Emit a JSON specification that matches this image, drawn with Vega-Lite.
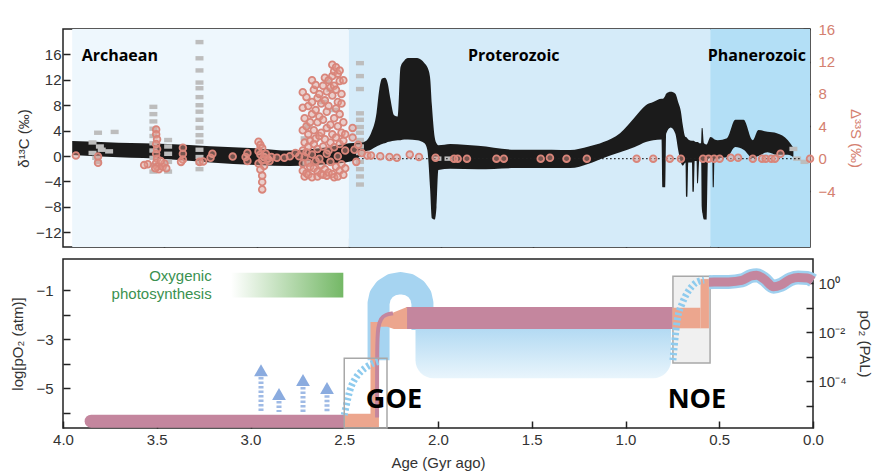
{
"$schema":"https://vega.github.io/schema/vega-lite/v6.json",
"background":"white",
"padding":{"left":10,"top":21,"right":5,"bottom":5},
"spacing":12,
"bounds":"flush",
"resolve":{"scale":{"x":"independent"}},
"config":{
 "view":{"stroke":"#222","strokeWidth":1.5},
 "axis":{"labelFont":"Liberation Sans","titleFont":"Liberation Sans","labelFontSize":15,"titleFontSize":15,"titleFontWeight":"normal","labelColor":"#333","titleColor":"#333","tickColor":"#222","tickWidth":1.5,"tickSize":-7,"domain":false,"grid":false}
},
"vconcat":[
{
 "width":747,"height":218,
 "resolve":{"scale":{"y":"independent"}},
 "layer":[
  {"layer":[
   {"data":{"values":[{"a1":4.0,"a2":2.5,"era":"A"},{"a1":2.5,"a2":0.541,"era":"P"},{"a1":0.541,"a2":0,"era":"Ph"}]},
    "mark":{"type":"rect"},
    "encoding":{
     "x":{"field":"a1","type":"quantitative","scale":{"domain":[0,4.05],"reverse":true,"nice":false,"zero":false},"axis":{"title":null,"labels":false,"values":[3.5,3,2.5,2,1.5,1,0.5],"tickSize":-9,"minExtent":0}},
     "x2":{"field":"a2"},
     "color":{"field":"era","type":"nominal","scale":{"domain":["A","P","Ph"],"range":["#eef7fd","#d5ebf9","#b3dff6"]},"legend":null}}},
   {"data":{"values":[
    {"age":4.0,"lo":0.16,"hi":2.36},{"age":3.75,"lo":-0.2,"hi":2.1},{"age":3.48,"lo":-0.5,"hi":1.9},{"age":3.25,"lo":-1.0,"hi":1.55},{"age":3.0,"lo":-1.4,"hi":1.2},{"age":2.82,"lo":-1.57,"hi":0.85},{"age":2.7,"lo":-1.45,"hi":1.1},{"age":2.6,"lo":-1.26,"hi":1.46},{"age":2.5,"lo":-0.9,"hi":2.0},{"age":2.45,"lo":-0.3,"hi":2.1},{"age":2.42,"lo":0.6,"hi":2.2},{"age":2.38,"lo":1.0,"hi":3.6},{"age":2.35,"lo":1.5,"hi":6.8},{"age":2.335,"lo":1.7,"hi":10.5},{"age":2.32,"lo":1.9,"hi":12.2},{"age":2.305,"lo":2.0,"hi":12.3},{"age":2.29,"lo":2.2,"hi":11.5},{"age":2.275,"lo":2.3,"hi":9.0},{"age":2.255,"lo":2.4,"hi":6.4},{"age":2.235,"lo":2.5,"hi":6.2},{"age":2.22,"lo":2.5,"hi":14.0},{"age":2.2,"lo":2.6,"hi":15.0},{"age":2.18,"lo":2.6,"hi":15.4},{"age":2.13,"lo":2.5,"hi":15.4},{"age":2.09,"lo":2.0,"hi":14.6},{"age":2.075,"lo":1.0,"hi":14.0},{"age":2.06,"lo":-5.0,"hi":12.4},{"age":2.05,"lo":-9.8,"hi":8.0},{"age":2.035,"lo":-10.0,"hi":3.0},{"age":2.025,"lo":-8.0,"hi":2.0},{"age":2.015,"lo":-2.2,"hi":1.7},{"age":1.95,"lo":-2.0,"hi":1.9},{"age":1.8,"lo":-2.1,"hi":1.6},{"age":1.6,"lo":-1.9,"hi":1.0},{"age":1.4,"lo":-1.9,"hi":1.0},{"age":1.3,"lo":-1.9,"hi":0.94},{"age":1.2,"lo":-1.2,"hi":1.5},{"age":1.12,"lo":-0.3,"hi":2.2},{"age":1.03,"lo":0.6,"hi":3.6},{"age":0.95,"lo":1.4,"hi":6.1},{"age":0.89,"lo":2.2,"hi":8.0},{"age":0.85,"lo":2.5,"hi":8.5},{"age":0.805,"lo":2.6,"hi":9.0},{"age":0.8,"lo":-4.9,"hi":9.0},{"age":0.785,"lo":-4.9,"hi":9.5},{"age":0.78,"lo":3.5,"hi":9.8},{"age":0.755,"lo":4.5,"hi":10.1},{"age":0.73,"lo":3.5,"hi":9.8},{"age":0.715,"lo":1.0,"hi":8.5},{"age":0.7,"lo":-1.0,"hi":7.0},{"age":0.69,"lo":-1.5,"hi":4.9},{"age":0.675,"lo":-1.0,"hi":3.0},{"age":0.672,"lo":-6.4,"hi":3.0},{"age":0.665,"lo":-6.4,"hi":2.8},{"age":0.66,"lo":-1.0,"hi":2.6},{"age":0.64,"lo":-1.0,"hi":2.4},{"age":0.636,"lo":-5.6,"hi":2.4},{"age":0.63,"lo":-5.6,"hi":2.4},{"age":0.625,"lo":-0.8,"hi":2.3},{"age":0.615,"lo":-0.8,"hi":2.2},{"age":0.612,"lo":-4.3,"hi":2.2},{"age":0.607,"lo":-4.3,"hi":2.2},{"age":0.6,"lo":-0.6,"hi":2.0},{"age":0.59,"lo":-0.6,"hi":2.0},{"age":0.587,"lo":-8.0,"hi":4.4},{"age":0.583,"lo":-9.0,"hi":4.4},{"age":0.575,"lo":-10.0,"hi":2.0},{"age":0.56,"lo":-10.0,"hi":1.8},{"age":0.553,"lo":-0.5,"hi":2.2},{"age":0.54,"lo":-0.3,"hi":3.0},{"age":0.53,"lo":-0.3,"hi":2.9},{"age":0.527,"lo":-4.9,"hi":2.8},{"age":0.522,"lo":-4.9,"hi":2.7},{"age":0.518,"lo":-0.3,"hi":2.6},{"age":0.5,"lo":-0.3,"hi":2.5},{"age":0.45,"lo":-0.2,"hi":2.8},{"age":0.405,"lo":1.4,"hi":5.7},{"age":0.36,"lo":1.0,"hi":5.7},{"age":0.31,"lo":-0.3,"hi":2.5},{"age":0.28,"lo":0.0,"hi":4.1},{"age":0.23,"lo":0.6,"hi":3.8},{"age":0.18,"lo":0.2,"hi":3.6},{"age":0.12,"lo":0.2,"hi":2.5},{"age":0.09,"lo":-0.2,"hi":1.3}]},
    "mark":{"type":"area","color":"#1b1b1b","interpolate":"monotone"},
    "encoding":{
     "x":{"field":"age","type":"quantitative","scale":{"domain":[0,4.05],"reverse":true,"nice":false,"zero":false},"axis":{"title":null,"labels":false,"values":[3.5,3,2.5,2,1.5,1,0.5],"tickSize":-9,"minExtent":0}},
     "y":{"field":"hi","type":"quantitative","scale":{"domain":[-14.31,19.98],"nice":false,"zero":false},"axis":{"title":"δ¹³C (‰)","values":[-12,-8,-4,0,4,8,12,16],"labelPadding":9,"titlePadding":4}},
     "y2":{"field":"lo"}}},
   {"data":{"values":[{"age":3.742,"y":14.94,"t":"Archaean"},{"age":1.606,"y":14.94,"t":"Proterozoic"},{"age":0.288,"y":14.94,"t":"Phanerozoic"}]},
    "mark":{"type":"text","font":"Open Sans","fontWeight":"bold","fontSize":16,"color":"#000","baseline":"alphabetic","align":"center"},
    "encoding":{
     "x":{"field":"age","type":"quantitative","scale":{"domain":[0,4.05],"reverse":true,"nice":false,"zero":false},"axis":{"title":null,"labels":false,"values":[3.5,3,2.5,2,1.5,1,0.5],"tickSize":-9,"minExtent":0}},
     "y":{"field":"y","type":"quantitative","scale":{"domain":[-14.31,19.98],"nice":false,"zero":false},"axis":{"title":"δ¹³C (‰)","values":[-12,-8,-4,0,4,8,12,16],"labelPadding":9,"titlePadding":4}},
     "text":{"field":"t"}}}
  ]},
  {"encoding":{
     "x":{"field":"age","type":"quantitative","scale":{"domain":[0,4.05],"reverse":true,"nice":false,"zero":false},"axis":{"title":null,"labels":false,"values":[3.5,3,2.5,2,1.5,1,0.5],"tickSize":-9,"minExtent":0}},
     "y":{"field":"v","type":"quantitative","scale":{"domain":[-10.92,16.02],"nice":false,"zero":false},"axis":{"orient":"right","title":"Δ³³S (‰)","values":[-4,0,4,8,12,16],"labelColor":"#d4806f","titleColor":"#d4806f","labelPadding":15,"titlePadding":12}}},
   "layer":[
   {"data":{"values":[
    {"age":3.86,"v":3.2},{"age":3.77,"v":3.3},{"age":3.89,"v":2.0},{"age":3.85,"v":1.5},{"age":3.84,"v":1.1},{"age":3.89,"v":0.7},{"age":3.87,"v":0.1},{"age":3.86,"v":-0.4},{"age":3.8,"v":0.9},
    {"age":3.56,"v":6.4},{"age":3.56,"v":5.5},{"age":3.56,"v":4.6},{"age":3.56,"v":3.7},{"age":3.56,"v":2.8},{"age":3.56,"v":1.9},{"age":3.56,"v":1.0},{"age":3.56,"v":0.1},{"age":3.56,"v":-0.8},{"age":3.56,"v":-1.6},
    {"age":3.48,"v":2.3},{"age":3.48,"v":1.5},{"age":3.48,"v":0.6},{"age":3.48,"v":-0.4},{"age":3.48,"v":-1.6},
    {"age":3.31,"v":14.4},{"age":3.31,"v":12.4},{"age":3.31,"v":10.9},{"age":3.31,"v":9.4},{"age":3.31,"v":8.7},{"age":3.31,"v":7.6},{"age":3.31,"v":6.6},{"age":3.31,"v":5.8},{"age":3.31,"v":4.8},{"age":3.31,"v":3.8},{"age":3.31,"v":2.9},{"age":3.31,"v":2.1},{"age":3.31,"v":1.1},{"age":3.31,"v":0.2},{"age":3.31,"v":-0.5},{"age":3.31,"v":-1.3},
    {"age":2.62,"v":9.5},{"age":2.6,"v":8.5},{"age":2.64,"v":7.0},{"age":2.58,"v":6.0},{"age":2.72,"v":4.0},{"age":2.74,"v":2.5},{"age":2.73,"v":-0.5},
    {"age":2.44,"v":11.8},{"age":2.44,"v":10.2},{"age":2.44,"v":8.6},{"age":2.44,"v":5.6},{"age":2.44,"v":4.8},{"age":2.44,"v":3.9},{"age":2.44,"v":3.2},{"age":2.44,"v":2.3},{"age":2.44,"v":1.5},{"age":2.44,"v":0.7},{"age":2.44,"v":-0.4},{"age":2.44,"v":-1.3},{"age":2.44,"v":-2.2},{"age":2.44,"v":-3.2},
    {"age":0.09,"v":1.2},{"age":0.07,"v":0.0},{"age":0.03,"v":-0.4},{"age":1.96,"v":0.0},{"age":2.02,"v":0.0}]},
    "mark":{"type":"point","shape":"M-1,-0.55L1,-0.55L1,0.55L-1,0.55Z","filled":true,"color":"#bdbdbd","size":64,"opacity":1}},
   {"data":{"values":[{"age":2.45,"age2":0.05,"v":0}]},
    "mark":{"type":"rule","color":"#222","strokeWidth":1.4,"strokeDash":[1.5,2.5]},
    "encoding":{"x2":{"field":"age2"}}},
   {"data":{"values":[
    {"age":3.98,"v":0.4},{"age":3.86,"v":0.25},{"age":3.86,"v":-0.5},
    {"age":3.545,"v":3.6},{"age":3.545,"v":3.0},{"age":3.54,"v":2.4},{"age":3.545,"v":1.8},{"age":3.54,"v":1.2},{"age":3.545,"v":0.6},{"age":3.54,"v":0.0},{"age":3.545,"v":-0.5},{"age":3.54,"v":-1.0},{"age":3.53,"v":-1.3},{"age":3.55,"v":-1.2},{"age":3.51,"v":-1.0},{"age":3.5,"v":-0.6},{"age":3.49,"v":-1.2},{"age":3.52,"v":-0.3},{"age":3.59,"v":-0.7},{"age":3.61,"v":-0.8},
    {"age":3.4,"v":1.35},{"age":3.4,"v":0.6},{"age":3.4,"v":-0.1},{"age":3.41,"v":-0.4},
    {"age":3.31,"v":-0.4},{"age":3.29,"v":-0.35},{"age":3.24,"v":0.6},{"age":3.25,"v":0.1},
    {"age":3.13,"v":0.25},{"age":3.05,"v":0.7},{"age":3.05,"v":-0.3},{"age":3.06,"v":0.2},
    {"age":2.99,"v":2.1},{"age":2.98,"v":1.7},{"age":2.97,"v":1.3},{"age":2.99,"v":0.9},{"age":2.98,"v":0.5},{"age":2.96,"v":0.2},{"age":2.97,"v":-0.2},{"age":2.99,"v":-0.6},{"age":2.96,"v":-0.9},{"age":2.98,"v":-1.35},{"age":2.97,"v":-2.1},{"age":2.97,"v":-2.9},{"age":2.97,"v":-3.8},{"age":2.95,"v":0.6},{"age":2.94,"v":0.0},{"age":2.93,"v":-0.3},{"age":2.92,"v":0.2},
    {"age":2.89,"v":0.1},{"age":2.85,"v":0.1},{"age":2.82,"v":0.3},{"age":2.79,"v":0.7},{"age":2.77,"v":0.3},
    {"age":2.75,"v":8.2},{"age":2.75,"v":6.3},{"age":2.75,"v":3.5},{"age":2.75,"v":1.0},{"age":2.75,"v":-1.5},{"age":2.75,"v":-0.6},
    {"age":2.74,"v":5.0},{"age":2.74,"v":2.0},{"age":2.74,"v":0.2},{"age":2.74,"v":-2.2},
    {"age":2.73,"v":7.6},{"age":2.73,"v":4.0},{"age":2.73,"v":-1.8},{"age":2.73,"v":0.8},
    {"age":2.72,"v":6.5},{"age":2.72,"v":3.0},{"age":2.72,"v":1.5},{"age":2.72,"v":-0.5},{"age":2.72,"v":-2.0},
    {"age":2.71,"v":4.5},{"age":2.71,"v":2.2},{"age":2.71,"v":-1.0},
    {"age":2.7,"v":9.7},{"age":2.7,"v":7.0},{"age":2.7,"v":5.5},{"age":2.7,"v":0.5},{"age":2.7,"v":-2.3},
    {"age":2.69,"v":8.5},{"age":2.69,"v":3.5},{"age":2.69,"v":-1.2},{"age":2.69,"v":1.8},
    {"age":2.68,"v":9.1},{"age":2.68,"v":6.0},{"age":2.68,"v":2.5},{"age":2.68,"v":-0.3},
    {"age":2.67,"v":7.5},{"age":2.67,"v":4.5},{"age":2.67,"v":1.2},{"age":2.67,"v":-1.6},{"age":2.67,"v":-2.2},
    {"age":2.66,"v":8.0},{"age":2.66,"v":5.2},{"age":2.66,"v":2.8},{"age":2.66,"v":0.0},
    {"age":2.65,"v":6.8},{"age":2.65,"v":3.2},{"age":2.65,"v":-0.8},{"age":2.65,"v":-1.9},
    {"age":2.64,"v":9.0},{"age":2.64,"v":4.8},{"age":2.64,"v":1.5},{"age":2.64,"v":-2.0},
    {"age":2.63,"v":10.0},{"age":2.63,"v":7.2},{"age":2.63,"v":2.4},{"age":2.63,"v":-1.3},
    {"age":2.62,"v":8.3},{"age":2.62,"v":5.8},{"age":2.62,"v":3.8},{"age":2.62,"v":0.6},{"age":2.62,"v":-2.1},
    {"age":2.61,"v":9.7},{"age":2.61,"v":6.5},{"age":2.61,"v":1.0},{"age":2.61,"v":-1.7},
    {"age":2.6,"v":8.8},{"age":2.6,"v":4.2},{"age":2.6,"v":2.0},{"age":2.6,"v":-0.4},
    {"age":2.59,"v":11.6},{"age":2.59,"v":10.2},{"age":2.59,"v":7.8},{"age":2.59,"v":3.0},{"age":2.59,"v":-1.9},
    {"age":2.58,"v":10.8},{"age":2.58,"v":9.0},{"age":2.58,"v":5.0},{"age":2.58,"v":1.4},{"age":2.58,"v":-2.3},
    {"age":2.57,"v":11.3},{"age":2.57,"v":8.5},{"age":2.57,"v":6.2},{"age":2.57,"v":2.6},{"age":2.57,"v":-1.0},
    {"age":2.56,"v":10.5},{"age":2.56,"v":7.0},{"age":2.56,"v":4.0},{"age":2.56,"v":0.3},{"age":2.56,"v":-2.2},
    {"age":2.55,"v":10.9},{"age":2.55,"v":9.6},{"age":2.55,"v":5.5},{"age":2.55,"v":1.8},{"age":2.55,"v":-1.5},
    {"age":2.54,"v":8.0},{"age":2.54,"v":6.8},{"age":2.54,"v":3.2},{"age":2.54,"v":-0.7},
    {"age":2.53,"v":9.7},{"age":2.53,"v":4.5},{"age":2.53,"v":2.2},{"age":2.53,"v":-2.0},
    {"age":2.52,"v":3.0},{"age":2.52,"v":1.0},{"age":2.52,"v":-1.2},
    {"age":2.48,"v":3.8},{"age":2.48,"v":2.6},{"age":2.47,"v":1.1},{"age":2.45,"v":1.7},{"age":2.46,"v":-0.4},{"age":2.43,"v":0.7},{"age":2.4,"v":0.4},{"age":2.38,"v":0.4},{"age":2.33,"v":0.3},{"age":2.28,"v":0.2},{"age":2.24,"v":0.1},{"age":2.17,"v":0.5},{"age":2.12,"v":0.2},{"age":2.03,"v":0.1},{"age":1.93,"v":0.0},{"age":1.91,"v":0.0},{"age":1.86,"v":0.0},{"age":1.7,"v":0.0},{"age":1.66,"v":0.0},{"age":1.46,"v":0.0},{"age":1.41,"v":0.1},{"age":1.32,"v":0.0},{"age":1.21,"v":0.0},{"age":0.94,"v":0.0},{"age":0.85,"v":0.0},{"age":0.76,"v":0.0},{"age":0.7,"v":0.0},{"age":0.58,"v":0.0},{"age":0.55,"v":0.0},{"age":0.52,"v":0.0},{"age":0.49,"v":0.0},{"age":0.43,"v":0.1},{"age":0.39,"v":0.1},{"age":0.31,"v":0.0},{"age":0.26,"v":0.0},{"age":0.24,"v":0.0},{"age":0.21,"v":0.0},{"age":0.19,"v":0.0},{"age":0.16,"v":0.6},{"age":0.0,"v":0.0}]},
    "mark":{"type":"point","shape":"circle","filled":false,"stroke":"#d9857a","strokeWidth":1.8,"fill":"#e59c8d","fillOpacity":0.45,"size":45,"opacity":1}}
  ]}
 ]
},
{
 "width":750,"height":169,
 "resolve":{"scale":{"y":"independent"}},
 "layer":[
  {"encoding":{
     "x":{"field":"age","type":"quantitative","scale":{"domain":[0,4],"reverse":true,"nice":false,"zero":false},"axis":{"title":"Age (Gyr ago)","values":[4,3.5,3,2.5,2,1.5,1,0.5,0],"format":".1f","labelFlush":false,"labelPadding":11,"titlePadding":8}},
     "y":{"field":"v","type":"quantitative","scale":{"domain":[-6.63,0.27],"nice":false,"zero":false},"axis":{"title":"log[pO₂ (atm)]","values":[-6,-5,-4,-3,-2,-1],"labelExpr":"datum.value % 2 == 0 ? '' : datum.label","labelPadding":17,"titlePadding":10}}},
   "layer":[
   {"data":{"values":[{"age":0.747,"age2":0.549,"v":-0.43,"v2":-3.98}]},
    "mark":{"type":"rect","fill":"#f0f0f0","stroke":"#a8a8a8","strokeWidth":1.5},
    "encoding":{"x2":{"field":"age2"},"y2":{"field":"v2"}}},
   {"data":{"values":[{"age":3.104,"age2":2.505,"v":-0.29,"v2":-1.3}]},
    "mark":{"type":"rect","fill":{"gradient":"linear","x1":0,"y1":0,"x2":1,"y2":0,"stops":[{"offset":0,"color":"#ffffff"},{"offset":1,"color":"#74b866"}]}},
    "encoding":{"x2":{"field":"age2"},"y2":{"field":"v2"}}},
   {"data":{"values":[{"age":2.317,"v":-3.86,"o":1},{"age":2.317,"v":-1.53,"o":2},{"age":2.308,"v":-1.216,"o":3},{"age":2.283,"v":-0.955,"o":4},{"age":2.245,"v":-0.776,"o":5},{"age":2.2,"v":-0.714,"o":6},{"age":2.155,"v":-0.776,"o":7},{"age":2.117,"v":-0.955,"o":8},{"age":2.092,"v":-1.216,"o":9},{"age":2.083,"v":-1.53,"o":10},{"age":2.083,"v":-2.63,"o":11}]},
    "mark":{"type":"line","color":"#a6d4f1","strokeWidth":22,"interpolate":"linear","strokeCap":"butt","strokeJoin":"round"},
    "encoding":{"order":{"field":"o"}}},
   {"data":{"values":[{"age":2.12,"age2":0.757,"v":-2.0,"v2":-4.6}]},
    "mark":{"type":"rect","fill":{"gradient":"linear","x1":0,"y1":0,"x2":0,"y2":1,"stops":[{"offset":0,"color":"#a3d2f0"},{"offset":1,"color":"#e9f5fc"}]},"cornerRadiusBottomLeft":18,"cornerRadiusBottomRight":18},
    "encoding":{"x2":{"field":"age2"},"y2":{"field":"v2"}}},
   {"data":{"values":[{"age":3.85,"v":-6.35},{"age":2.5,"v":-6.35}]},
    "mark":{"type":"line","color":"#c4869e","strokeWidth":13,"strokeCap":"round"}},
   {"data":{"values":[{"age":2.17,"age2":0.75,"v":-1.69,"v2":-2.59}]},
    "mark":{"type":"rect","fill":"#c4869e"},
    "encoding":{"x2":{"field":"age2"},"y2":{"field":"v2"}}},
   {"data":{"values":[{"age":2.5,"age2":2.325,"v":-6.05,"v2":-6.6},{"age":2.36,"age2":2.315,"v":-2.3,"v2":-6.6},{"age":0.75,"age2":0.6,"v":-1.72,"v2":-2.56},{"age":0.6,"age2":0.555,"v":-0.55,"v2":-2.56}]},
    "mark":{"type":"rect","fill":"#eca68e"},
    "encoding":{"x2":{"field":"age2"},"y2":{"field":"v2"}}},
   {"data":{"values":[{"age":2.315,"v":-2.3,"v2":-2.5},{"age":2.27,"v":-2.05,"v2":-2.5},{"age":2.235,"v":-1.9,"v2":-2.59},{"age":2.165,"v":-1.69,"v2":-2.59}]},
    "mark":{"type":"area","color":"#eca68e"},
    "encoding":{"y2":{"field":"v2"}}},
   {"data":{"values":[{"age":2.325,"v":-6.2,"o":1},{"age":2.325,"v":-3.2,"o":2},{"age":2.32,"v":-2.5,"o":3},{"age":2.305,"v":-2.15,"o":4},{"age":2.28,"v":-2.0,"o":5},{"age":2.24,"v":-1.95,"o":6}]},
    "mark":{"type":"line","color":"#c4869e","strokeWidth":4,"interpolate":"basis"},
    "encoding":{"order":{"field":"o"}}},
   {"data":{"values":[{"g":"GOE","age":2.5,"v":-6.1,"o":1},{"g":"GOE","age":2.47,"v":-5.1,"o":2},{"g":"GOE","age":2.44,"v":-4.6,"o":3},{"g":"GOE","age":2.4,"v":-4.25,"o":4},{"g":"GOE","age":2.35,"v":-4.0,"o":5},{"g":"GOE","age":2.31,"v":-3.9,"o":6},
      {"g":"NOE","age":0.747,"v":-3.86,"o":1},{"g":"NOE","age":0.724,"v":-2.22,"o":2},{"g":"NOE","age":0.698,"v":-1.55,"o":3},{"g":"NOE","age":0.664,"v":-1.03,"o":4},{"g":"NOE","age":0.624,"v":-0.7,"o":5},{"g":"NOE","age":0.581,"v":-0.59,"o":6}]},
    "mark":{"type":"line","color":"#8ecbee","strokeWidth":7,"strokeDash":[2.5,2.5],"interpolate":"cardinal"},
    "encoding":{"detail":{"field":"g"},"order":{"field":"o"}}},
   {"data":{"values":[{"age":2.5,"age2":2.272,"v":-3.78,"v2":-6.63}]},
    "mark":{"type":"rect","fill":"#ffffff","fillOpacity":0,"stroke":"#a8a8a8","strokeWidth":1.5},
    "encoding":{"x2":{"field":"age2"},"y2":{"field":"v2"}}},
   {"data":{"values":[{"age":2.944,"v":-4.55,"v2":-5.98},{"age":2.848,"v":-5.53,"v2":-5.98},{"age":2.72,"v":-4.96,"v2":-5.98},{"age":2.592,"v":-5.29,"v2":-5.98}]},
    "mark":{"type":"rule","color":"#8eaee0","strokeWidth":5,"strokeDash":[2.5,2],"opacity":0.85},
    "encoding":{"y2":{"field":"v2"}}},
   {"data":{"values":[{"age":2.944,"v":-4.27},{"age":2.848,"v":-5.24},{"age":2.72,"v":-4.67},{"age":2.592,"v":-5.0}]},
    "mark":{"type":"point","shape":"triangle-up","filled":true,"color":"#8aabdf","size":190,"opacity":1}},
   {"data":{"values":[{"age":3.207,"v":-0.63,"t":"Oxygenic"},{"age":3.207,"v":-1.38,"t":"photosynthesis"}]},
    "mark":{"type":"text","align":"right","baseline":"alphabetic","font":"Liberation Sans","fontSize":15,"color":"#3a9150"},
    "encoding":{"text":{"field":"t"}}},
   {"data":{"values":[{"age":2.235,"v":-5.82,"t":"GOE"},{"age":0.619,"v":-5.82,"t":"NOE"}]},
    "mark":{"type":"text","align":"center","baseline":"alphabetic","font":"Open Sans","fontWeight":"bold","fontSize":27,"color":"#000"},
    "encoding":{"text":{"field":"t"}}}
  ]},
  {"data":{"values":[{"age":0.555,"pal":1.096},{"age":0.5,"pal":1.109},{"age":0.45,"pal":1.122},{"age":0.38,"pal":1.288},{"age":0.33,"pal":1.95},{"age":0.3,"pal":2.09},{"age":0.26,"pal":1.445},{"age":0.21,"pal":0.708},{"age":0.17,"pal":0.851},{"age":0.12,"pal":1.445},{"age":0.08,"pal":1.698},{"age":0.03,"pal":1.622},{"age":0.0,"pal":1.259}]},
   "encoding":{
     "x":{"field":"age","type":"quantitative","scale":{"domain":[0,4],"reverse":true,"nice":false,"zero":false},"axis":{"title":"Age (Gyr ago)","values":[4,3.5,3,2.5,2,1.5,1,0.5,0],"format":".1f","labelFlush":false,"labelPadding":11,"titlePadding":8}},
     "y":{"field":"pal","type":"quantitative","scale":{"type":"log","domain":[1.213e-6,9.64],"nice":false},"axis":{"orient":"right","title":"pO₂ (PAL)","values":[0.00001,0.0001,0.001,0.01,0.1,1],"labelExpr":"datum.value == 1 ? '10⁰' : datum.value == 0.01 ? '10⁻²' : datum.value == 0.0001 ? '10⁻⁴' : ''","labelPadding":12,"titlePadding":10}}},
   "layer":[
    {"mark":{"type":"line","color":"#9fd0ef","strokeWidth":14,"interpolate":"monotone","strokeCap":"butt"}},
    {"mark":{"type":"line","color":"#c4869e","strokeWidth":9,"interpolate":"monotone","strokeCap":"butt"}}
   ]}
 ]
}
]
}
